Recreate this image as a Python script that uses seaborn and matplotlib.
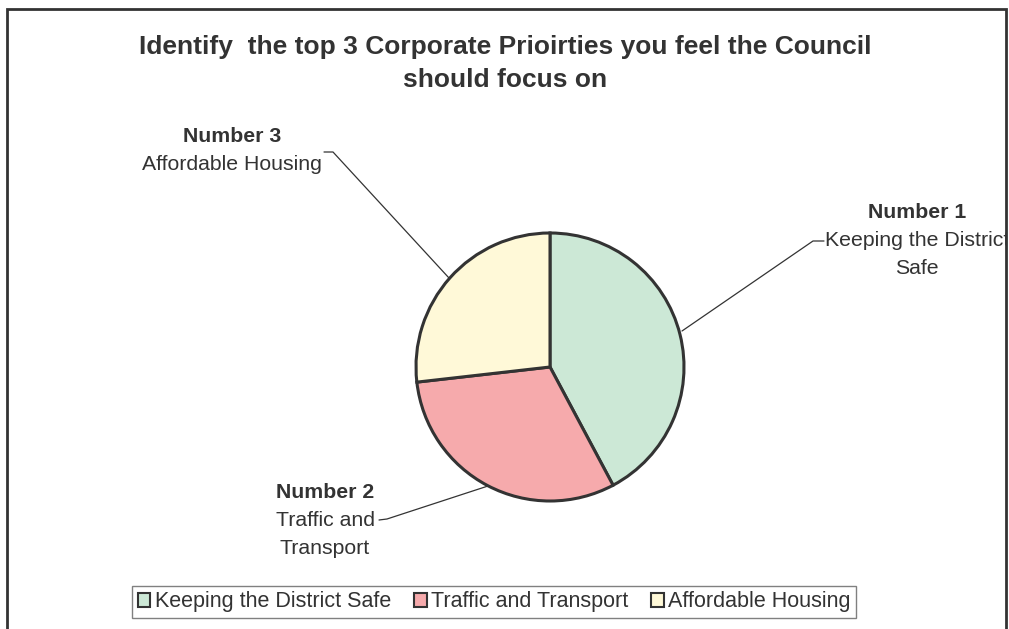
import matplotlib
matplotlib.use("Agg")
import matplotlib.pyplot as plt
from matplotlib.patches import Patch
import seaborn as sns

# Survey result: share of responses per corporate priority
categories = ["Keeping the District Safe", "Traffic and Transport", "Affordable Housing"]
shares = [42.2, 31.0, 26.8]
ranks = ["Number 1", "Number 2", "Number 3"]
label_lines = [["Keeping the District", "Safe"], ["Traffic and", "Transport"], ["Affordable Housing"]]
colors = ["#CCE8D6", "#F6AAAC", "#FFF9D8"]
title_lines = ["Identify  the top 3 Corporate Prioirties you feel the Council", "should focus on"]

sns.set_theme(style="white")
plt.rcParams["font.family"] = ["Liberation Sans", "DejaVu Sans"]

W, H = 1009, 629
fig = plt.figure(figsize=(W / 100, H / 100), dpi=100)
ax = fig.add_axes([0, 0, 1, 1])

def Y(y):
    return H - y

ink = "#333333"

ax.pie(shares, colors=colors, startangle=90, counterclock=False,
       center=(550, Y(367)), radius=134,
       wedgeprops=dict(edgecolor=ink, linewidth=2.2))
ax.set_xlim(0, W)
ax.set_ylim(0, H)
ax.set_aspect("auto")
ax.axis("off")

# title
ax.text(505, Y(47), title_lines[0], ha="center", va="center", fontsize=19,
        fontweight="bold", color=ink)
ax.text(505, Y(80), title_lines[1], ha="center", va="center", fontsize=19,
        fontweight="bold", color=ink)

# callout labels: (x centre, y of rank line)
label_pos = [(917, 213), (325, 492), (232, 137)]
for rank, lines, (lx, ly) in zip(ranks, label_lines, label_pos):
    ax.text(lx, Y(ly), rank, ha="center", va="center", fontsize=15.3,
            fontweight="bold", color=ink)
    for i, line in enumerate(lines):
        ax.text(lx, Y(ly + 28 * (i + 1)), line, ha="center", va="center",
                fontsize=15.3, color=ink, clip_on=True)

# leader lines from labels to wedges
leaders = [
    [(824, 241), (813, 241), (682, 331)],
    [(379, 520), (387, 519), (488, 486)],
    [(324, 152), (333, 152), (449, 278)],
]
for pts in leaders:
    xs = [p[0] for p in pts]
    ys = [Y(p[1]) for p in pts]
    ax.plot(xs, ys, color=ink, lw=0.9)

# chart-area border
ax.fill_between([1006, W], 0, H, color="white", zorder=5)
ax.plot([6.5, 6.5, 1006, 1006], [0, Y(9), Y(9), 0], color=ink, lw=2,
        solid_joinstyle="miter", zorder=6)

handles = [Patch(facecolor=c, edgecolor=ink, linewidth=1.5) for c in colors]
fig.legend(handles, categories, ncol=3, loc="center",
           bbox_to_anchor=(494 / W, 1 - 602 / H), fontsize=15.5,
           frameon=True, fancybox=False, edgecolor="#808080", framealpha=1,
           handlelength=0.6, handleheight=0.6, handletextpad=0.2,
           columnspacing=1.05, borderpad=0.25, borderaxespad=0.0,
           labelcolor=ink)

fig.savefig("out.png", dpi=100, facecolor="white")
